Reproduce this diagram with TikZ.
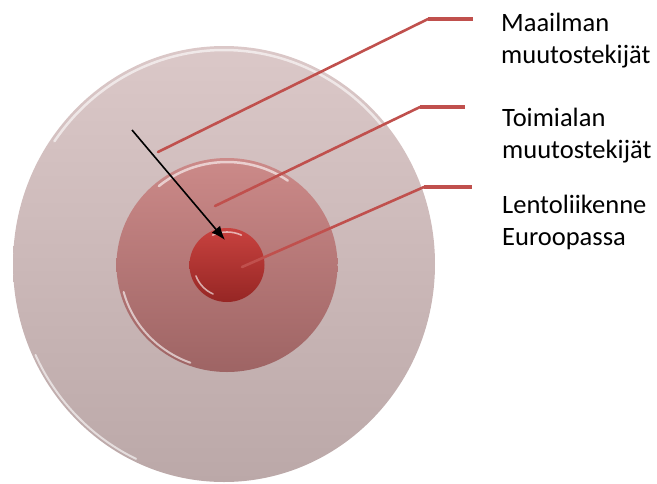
\documentclass[tikz,border=0pt]{standalone}
\usepackage{fontspec}
\setmainfont{Carlito}
\usetikzlibrary{arrows.meta,shapes.geometric}
\definecolor{outtop}{HTML}{DBC8C8}
\definecolor{outbot}{HTML}{BBA8A8}
\definecolor{midtop}{HTML}{CC8A89}
\definecolor{midbot}{HTML}{9E6464}
\definecolor{coretop}{HTML}{C8423F}
\definecolor{corebot}{HTML}{962624}
\definecolor{callred}{HTML}{C0504D}
\tikzset{
  disk/.style={ellipse, draw=none, inner sep=0pt},
  gloss/.style={draw=white, line cap=round, opacity=0.6},
  slant/.style={draw=callred, line width=2.6pt, line cap=round},
  stub/.style={draw=callred, line width=4.5pt},
  tagtext/.style={anchor=base west, align=left, inner sep=0pt, font=\fontsize{26.5}{31.5}\selectfont},
  pointer/.style={-{Latex[length=14pt,width=11pt]}, line width=1.6pt, draw=black},
}
\begin{document}
\begin{tikzpicture}[x=1pt,y=-1pt]
  \useasboundingbox (0,0) rectangle (657,483);
  % disks
  \node[disk,minimum width=422pt,minimum height=436pt,top color=outtop,bottom color=outbot](outer) at (224,264){};
  \node[disk,minimum width=221pt,minimum height=214pt,top color=midtop,bottom color=midbot](mid) at (227,265){};
  \node[disk,minimum width=75pt,minimum height=74pt,top color=coretop,bottom color=corebot](core) at (227,265){};
  % gloss
  \draw[gloss,line width=2.5pt] ([shift={(-145:207 and 214)}]outer.center) arc[start angle=-145,end angle=-40,x radius=207,y radius=214];
  \draw[gloss,line width=2pt] ([shift={(-205:208 and 215)}]outer.center) arc[start angle=-205,end angle=-245,x radius=208,y radius=215];
  \draw[gloss,line width=2.5pt] ([shift={(-130:106 and 103)}]mid.center) arc[start angle=-130,end angle=-55,x radius=106,y radius=103];
  \draw[gloss,line width=2pt] ([shift={(-195:107 and 104)}]mid.center) arc[start angle=-195,end angle=-250,x radius=107,y radius=104];
  \draw[gloss,line width=1.6pt] ([shift={(-115:34 and 33)}]core.center) arc[start angle=-115,end angle=-65,x radius=34,y radius=33];
  \draw[gloss,line width=1.6pt] ([shift={(-200:33 and 32)}]core.center) arc[start angle=-200,end angle=-245,x radius=33,y radius=32];
  % callout points
  \coordinate (w0) at (158,152);
  \coordinate (w1) at (428,19);
  \coordinate (w2) at (473,19);
  \coordinate (t0) at (215,206);
  \coordinate (t1) at (420,107);
  \coordinate (t2) at (465,107);
  \coordinate (l0) at (242,267);
  \coordinate (l1) at (424,187);
  \coordinate (l2) at (472,187);
  \coordinate (a0) at (132,130);
  \coordinate (a1) at (225,240);
  % labels
  \node[tagtext](world) at (501,63){Maailman\\muutostekijät};
  \node[tagtext](branch) at (502,158){Toimialan\\muutostekijät};
  \node[tagtext](europe) at (502,245){Lentoliikenne\\Euroopassa};
  % callouts
  \draw[slant](w0)--(w1);
  \draw[stub](w1)--(w2);
  \draw[slant](t0)--(t1);
  \draw[stub](t1)--(t2);
  \draw[slant](l0)--(l1);
  \draw[stub](l1)--(l2);
  % arrow
  \draw[pointer](a0)--(a1);
\end{tikzpicture}
\end{document}
